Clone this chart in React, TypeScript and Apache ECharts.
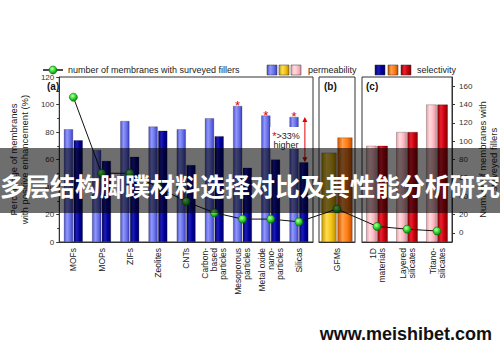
import { useEffect, useRef } from 'react';
import * as echarts from 'echarts';

// ---------- data ----------
const categoriesA = ['MOFs', 'MOPs', 'ZIFs', 'Zeolites', 'CNTs', 'Carbon-\nbased\nparticles', 'Mesoporous\nparticles', 'Metal oxide\nnano-\nparticles', 'Silicas'];
const permeabilityA = [82, 67, 88, 84, 82, 90, 99, 92, 91];
const selectivityA = [74, 59, 62, 81, 56, 77, 54, 60, 58];
const membranesA = [148, 65, 65, 50, 34, 22, 15, 15, 12];
const significantA = [false, false, false, false, false, false, true, true, true];

const categoriesB = ['GFMs'];
const permeabilityB = [65];
const selectivityB = [76];
const membranesB = [26];

const categoriesC = ['1D\nmaterials', 'Layered\nsilicates', 'Titano-\nsilicates'];
const permeabilityC = [70, 80, 100];
const selectivityC = [70, 80, 100];
const membranesC = [7, 4, 2];

const countTicks = [0, 20, 40, 60, 80, 100, 120, 140, 160];
const arrowCategory = 8; // Silicas
const noteLines = ['>33%', 'higher'];

const legendLineText = 'number of membranes with surveyed fillers';
const bannerText = '多层结构脚蹼材料选择对比及其性能分析研究';
const watermarkText = 'www.meishibet.com';

// ---------- styles ----------
const FONT = '"Liberation Sans", Arial, sans-serif';
const AX = '#333';
const BLUE = ['#4a52d4', '#9298f8', '#6a72ec', '#3a42c4'];
const NAVY = ['#000060', '#1c1cb8', '#00009c', '#000068'];
const YELLOW = ['#c89a00', '#ffdc50', '#f2c214', '#b88a00'];
const ORANGE = ['#d05400', '#ffa048', '#ff7c14', '#c44c00'];
const PINK = ['#e8a0a8', '#ffdce0', '#ffbcc4', '#e090a0'];
const RED = ['#880000', '#ec2030', '#c80010', '#800000'];

const hGrad = (stops: string[]) =>
  new echarts.graphic.LinearGradient(0, 0, 1, 0, stops.map((c, i) => ({ offset: i / (stops.length - 1), color: c })));
const greenDot = () =>
  new echarts.graphic.RadialGradient(0.4, 0.35, 0.65, [
    { offset: 0, color: '#c8ffb0' },
    { offset: 0.45, color: '#3fe63f' },
    { offset: 1, color: '#0c8c0c' },
  ]);

function bar(data: any[], xi: number, yi: number, colors: string[], catGap: string) {
  return {
    type: 'bar',
    xAxisIndex: xi,
    yAxisIndex: yi,
    data,
    barGap: '6%',
    barCategoryGap: catGap,
    itemStyle: { color: hGrad(colors), borderColor: 'rgba(0,0,0,0.45)', borderWidth: 0.5 },
    emphasis: { disabled: true },
    z: 2,
  };
}
function line(data: number[], xi: number, yi: number) {
  return {
    type: 'line',
    xAxisIndex: xi,
    yAxisIndex: yi,
    data,
    symbol: 'circle',
    symbolSize: 8,
    itemStyle: { color: greenDot(), borderColor: '#0b6b0b', borderWidth: 0.6 },
    lineStyle: { color: '#111', width: 1 },
    emphasis: { disabled: true },
    z: 5,
  };
}

const grids = [
  { left: 43, top: 77, width: 270, height: 165 },
  { left: 319, top: 77, width: 36, height: 165 },
  { left: 362, top: 77, width: 93, height: 165 },
];

function xAxis(gi: number, data: string[]) {
  return {
    type: 'category',
    gridIndex: gi,
    data,
    axisLine: { lineStyle: { color: AX } },
    axisTick: { alignWithLabel: true, length: 3, lineStyle: { color: AX } },
    axisLabel: { rotate: 90, interval: 0, fontSize: 8.5, lineHeight: 9, color: '#222', margin: 6, fontFamily: FONT },
    splitLine: { show: false },
  };
}
const hiddenY = (gi: number, pos: string, min: number, max: number) => ({
  type: 'value', gridIndex: gi, position: pos, min, max, show: false, splitLine: { show: false },
});

function buildOption() {
  return {
    animation: false,
    backgroundColor: '#fff',
    textStyle: { fontFamily: FONT },
    grid: grids.map((g) => ({ ...g, show: true, borderColor: AX, borderWidth: 1, backgroundColor: 'transparent' })),
    xAxis: [xAxis(0, categoriesA), xAxis(1, categoriesB), xAxis(2, categoriesC)],
    yAxis: [
      {
        type: 'value', gridIndex: 0, position: 'left', min: 0, max: 120, interval: 20,
        axisLine: { show: true, lineStyle: { color: AX } },
        axisTick: { show: true, length: 3, lineStyle: { color: AX } },
        minorTick: { show: true, splitNumber: 2, length: 2, lineStyle: { color: AX } },
        axisLabel: { fontSize: 8, color: '#333', margin: 5, fontFamily: FONT },
        splitLine: { show: false },
        name: 'Percentage of membranes\nwith positive enhancement (%)',
        nameLocation: 'middle', nameGap: 20,
        nameTextStyle: { fontSize: 9.5, color: '#222', lineHeight: 11, fontFamily: FONT },
      },
      hiddenY(0, 'right', -10, 170),
      hiddenY(1, 'left', 0, 120),
      hiddenY(1, 'right', -10, 170),
      hiddenY(2, 'left', 0, 120),
      {
        type: 'value', gridIndex: 2, position: 'right', min: -10, max: 170,
        axisLine: { show: true, lineStyle: { color: AX } },
        axisTick: { show: true, length: 3, lineStyle: { color: AX }, customValues: countTicks },
        axisLabel: { customValues: countTicks, fontSize: 8, color: '#333', margin: 7, fontFamily: FONT },
        splitLine: { show: false },
        name: 'Number of membranes with\nsurveyed fillers',
        nameLocation: 'middle', nameGap: 25,
        nameTextStyle: { fontSize: 9.5, color: '#222', lineHeight: 11, fontFamily: FONT },
      },
    ],
    series: [
      bar(permeabilityA.map((v, i) => significantA[i]
        ? { value: v, label: { show: true, position: 'top', distance: 0, offset: [0, 6], formatter: '*', color: '#e00000', fontSize: 13, fontFamily: FONT } }
        : v), 0, 0, BLUE, '33%'),
      bar(selectivityA, 0, 0, NAVY, '33%'),
      line(membranesA, 0, 1),
      bar(permeabilityB, 1, 2, YELLOW, '14%'),
      bar(selectivityB, 1, 2, ORANGE, '14%'),
      line(membranesB, 1, 3),
      bar(permeabilityC, 2, 4, PINK, '28%'),
      bar(selectivityC, 2, 4, RED, '28%'),
      line(membranesC, 2, 5),
    ],
  };
}

function swatch(x: number, colors: string[]) {
  return {
    type: 'rect', z: 10,
    shape: { x, y: 65, width: 10, height: 10 },
    style: { fill: new echarts.graphic.LinearGradient(0, 0, 1, 0, colors.map((c, i) => ({ offset: i / (colors.length - 1), color: c }))), stroke: '#333', lineWidth: 0.5 },
  };
}

export default function App() {
  const ref = useRef<HTMLDivElement>(null);
  useEffect(() => {
    const chart = echarts.init(ref.current!, null, { renderer: 'svg' });
    chart.setOption(buildOption() as any);

    const px = (seriesIndex: number, x: number, y: number) =>
      chart.convertToPixel({ seriesIndex } as any, [x, y]) as number[];

    const aLast = px(2, categoriesA.length - 1, membranesA[membranesA.length - 1]);
    const bPt = px(5, 0, membranesB[0]);
    const cFirst = px(8, 0, membranesC[0]);

    const arrTop = px(1, arrowCategory, permeabilityA[arrowCategory]);
    const arrBot = px(1, arrowCategory, selectivityA[arrowCategory]);
    const ax = arrTop[0] + 6;
    const RED_A = '#e00000';

    const elements: any[] = [
      // legend
      { type: 'line', z: 10, shape: { x1: 43, y1: 70, x2: 63, y2: 70 }, style: { stroke: '#111', lineWidth: 1.5 } },
      { type: 'circle', z: 11, shape: { cx: 53, cy: 70, r: 4 }, style: { fill: greenDot(), stroke: '#0b6b0b', lineWidth: 0.6 } },
      { type: 'text', z: 10, x: 68, y: 70, style: { text: legendLineText, fontSize: 9, fontFamily: FONT, fill: '#222', verticalAlign: 'middle' } },
      swatch(267, BLUE), swatch(279, YELLOW), swatch(291, PINK),
      { type: 'text', z: 10, x: 308, y: 70, style: { text: 'permeability', fontSize: 9, fontFamily: FONT, fill: '#222', verticalAlign: 'middle' } },
      swatch(375, NAVY), swatch(388, ORANGE), swatch(401, RED),
      { type: 'text', z: 10, x: 417, y: 70, style: { text: 'selectivity', fontSize: 9, fontFamily: FONT, fill: '#222', verticalAlign: 'middle' } },
      // panel labels
      { type: 'text', z: 10, x: 47, y: 81, style: { text: '(a)', fontSize: 10, fontWeight: 'bold', fontFamily: FONT, fill: '#111' } },
      { type: 'text', z: 10, x: 324, y: 81, style: { text: '(b)', fontSize: 10, fontWeight: 'bold', fontFamily: FONT, fill: '#111' } },
      { type: 'text', z: 10, x: 366, y: 81, style: { text: '(c)', fontSize: 10, fontWeight: 'bold', fontFamily: FONT, fill: '#111' } },
      // connectors between panels
      { type: 'line', z: 4, shape: { x1: aLast[0], y1: aLast[1], x2: bPt[0], y2: bPt[1] }, style: { stroke: '#111', lineWidth: 1 } },
      { type: 'line', z: 4, shape: { x1: bPt[0], y1: bPt[1], x2: cFirst[0], y2: cFirst[1] }, style: { stroke: '#111', lineWidth: 1 } },
      // note
      { type: 'rect', z: 6, shape: { x: 270, y: 127, width: 31, height: 22 }, style: { fill: '#fff' } },
      {
        type: 'text', z: 7, x: 286, y: 131,
        style: {
          text: '{r|*}' + noteLines[0] + '\n' + noteLines[1],
          rich: { r: { fill: RED_A, fontSize: 11, fontFamily: FONT } },
          fontSize: 9, lineHeight: 9, fontFamily: FONT, fill: '#222', align: 'center', verticalAlign: 'top',
        },
      },
      // arrow
      { type: 'line', z: 7, shape: { x1: ax, y1: arrTop[1] + 3, x2: ax, y2: arrBot[1] - 3 }, style: { stroke: RED_A, lineWidth: 1 } },
      { type: 'polygon', z: 7, shape: { points: [[ax, arrTop[1]], [ax - 2.5, arrTop[1] + 5], [ax + 2.5, arrTop[1] + 5]] }, style: { fill: RED_A } },
      { type: 'polygon', z: 7, shape: { points: [[ax, arrBot[1]], [ax - 2.5, arrBot[1] - 5], [ax + 2.5, arrBot[1] - 5]] }, style: { fill: RED_A } },
      // banner overlay
      { type: 'rect', z: 100, shape: { x: 0, y: 148, width: 500, height: 65 }, style: { fill: 'rgba(0,0,0,0.57)' } },
      {
        type: 'text', z: 101, x: 250, y: 185,
        style: { text: bannerText, fontSize: 25, fontWeight: 'bold', fontFamily: '"Noto Sans CJK SC", sans-serif', fill: '#fff', align: 'center', verticalAlign: 'middle' },
      },
      {
        type: 'text', z: 101, x: 492, y: 334,
        style: { text: watermarkText, fontSize: 18, fontWeight: 'bold', fontFamily: FONT, fill: '#111', align: 'right', verticalAlign: 'middle' },
      },
    ];
    chart.setOption({ graphic: { elements } } as any);
    return () => chart.dispose();
  }, []);
  return <div ref={ref} style={{ position: 'fixed', left: 0, top: 0, width: 500, height: 362, background: '#fff' }} />;
}
